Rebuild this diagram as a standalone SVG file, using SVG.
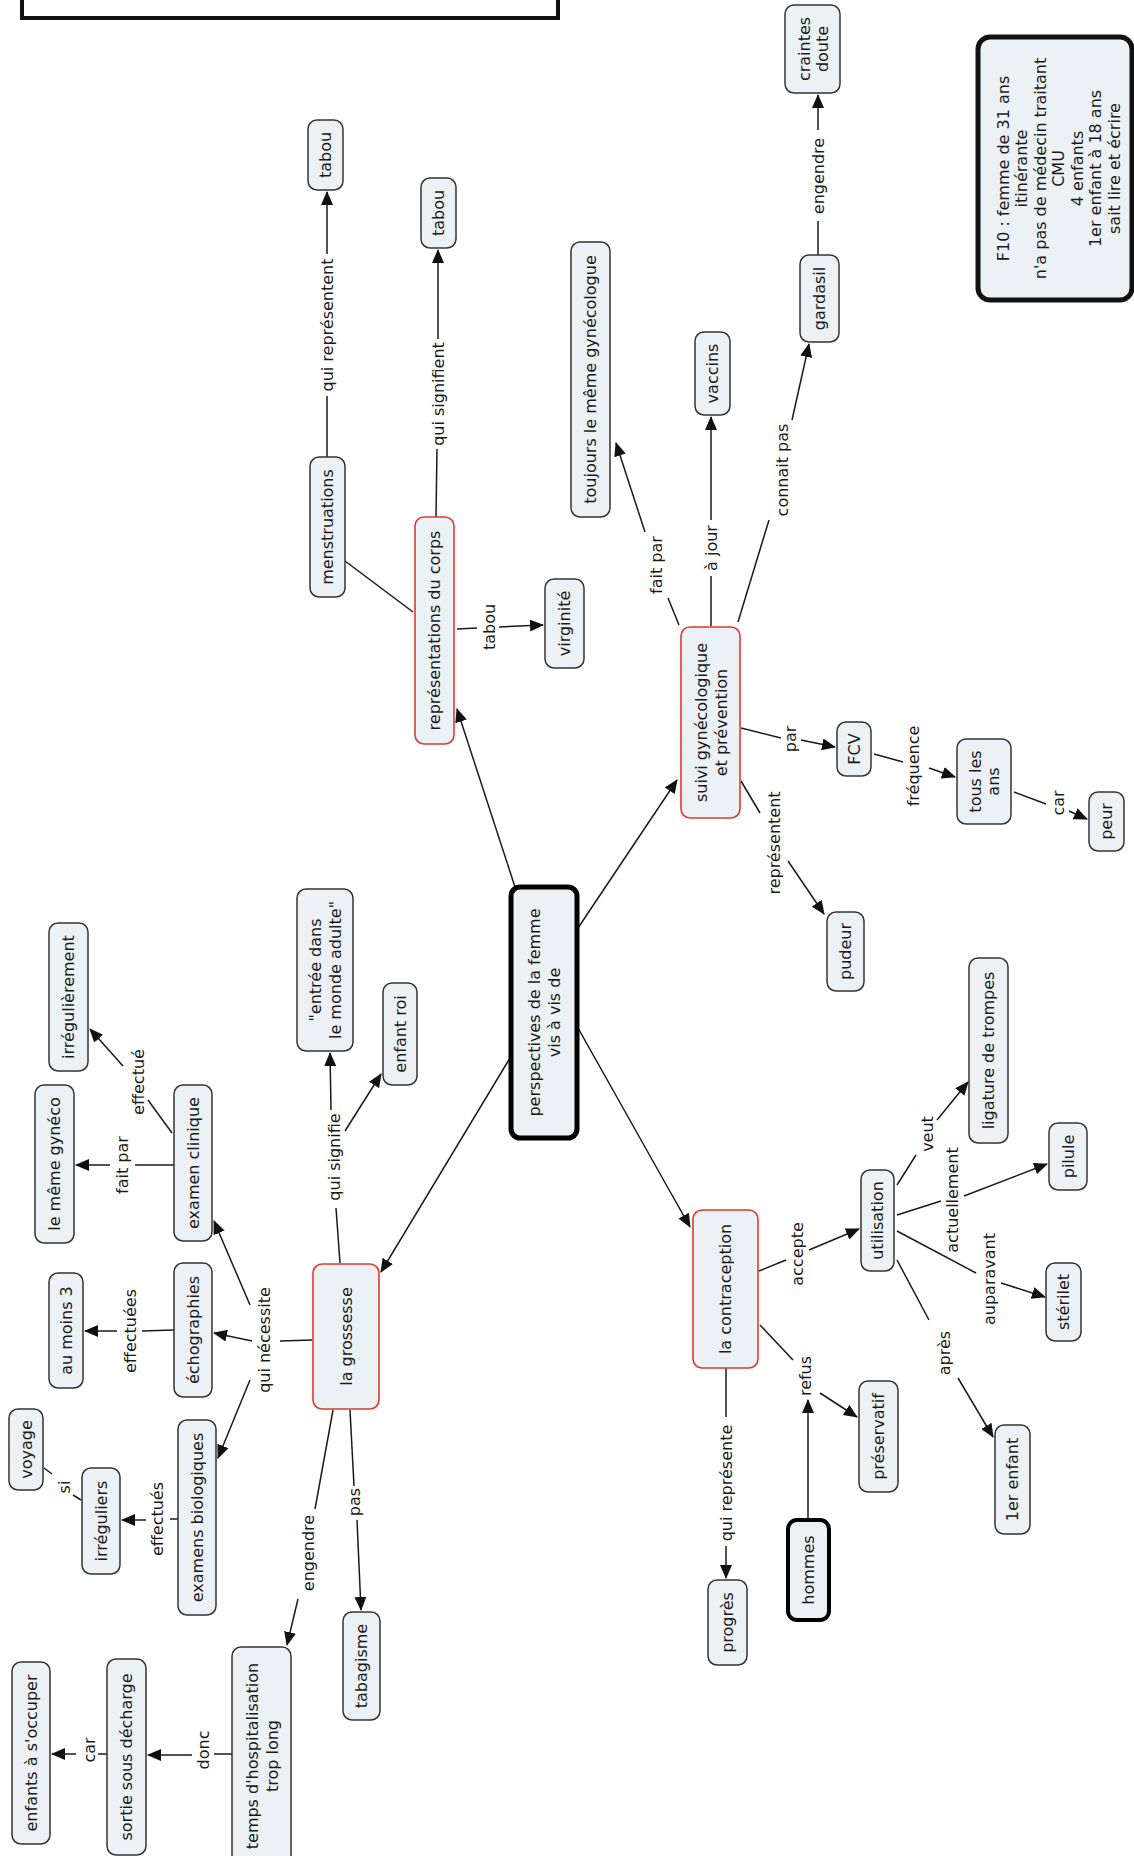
<svg xmlns="http://www.w3.org/2000/svg" width="1134" height="1856" viewBox="0 0 1134 1856">
<defs>
<style>
.n{fill:#ebf1f4;stroke:#333;stroke-width:1.5}
.r{fill:#ebf1f4;stroke:#e0392f;stroke-width:1.6}
.k{fill:#ebf1f4;stroke:#000;stroke-width:5}
.t{font-family:"DejaVu Sans","Verdana",sans-serif;font-size:16px;fill:#1a1a1a;text-anchor:middle;dominant-baseline:central}
.c path{fill:none;stroke:#1a1a1a;stroke-width:1.5}
.c .a{marker-end:url(#ah)}
</style>
<marker id="ah" viewBox="0 0 14 12" refX="13" refY="6" markerWidth="14" markerHeight="12" markerUnits="userSpaceOnUse" orient="auto"><path d="M0,0 L14,6 L0,12 z" fill="#111"/></marker>
</defs>
<rect width="1134" height="1856" fill="#fff"/>

<g id="title"><rect x="22" y="-20" width="536" height="38" fill="#fff" stroke="#111" stroke-width="4"/></g>

<g id="connectors" class="c">
<path d="M327,457 L327,396"/><path class="a" d="M327,254 L327,192"/>
<path d="M413,612 L345,561"/>
<path d="M436,517 L437,449"/><path class="a" d="M438,339 L438,250"/>
<path d="M457,629 L477,628"/><path class="a" d="M499,627 L543,625"/>
<path class="a" d="M515,887 L457,709"/>
<path class="a" d="M578,928 L677,780"/>
<path d="M679,625 L668,598"/><path class="a" d="M645,532 L616,443"/>
<path d="M711,626 L711,576"/><path class="a" d="M711,520 L711,417"/>
<path d="M738,622 L769,520"/><path class="a" d="M792,420 L809,344"/>
<path d="M818,255 L818,221"/><path class="a" d="M818,130 L818,95"/>
<path d="M741,728 L781,738"/><path class="a" d="M801,740 L835,747"/>
<path d="M874,754 L903,762"/><path class="a" d="M929,768 L955,777"/>
<path d="M1014,792 L1046,804"/><path class="a" d="M1069,811 L1087,819"/>
<path d="M741,781 L760,813"/><path class="a" d="M788,861 L824,914"/>
<path class="a" d="M510,1058 L381,1272"/>
<path class="a" d="M578,1028 L690,1227"/>
<path d="M340,1263 L336,1208"/><path class="a" d="M331,1110 L330,1053"/><path class="a" d="M345,1131 L381,1074"/>
<path d="M312,1340 L280,1341"/><path class="a" d="M252,1341 L214,1333"/><path class="a" d="M250,1305 L214,1221"/><path class="a" d="M250,1380 L218,1458"/>
<path d="M174,1165 L135,1165"/><path class="a" d="M110,1165 L76,1165"/>
<path d="M172,1133 L148,1100"/><path class="a" d="M123,1066 L90,1029"/>
<path d="M174,1330 L142,1331"/><path class="a" d="M117,1331 L85,1331"/>
<path d="M178,1519 L170,1519"/><path class="a" d="M146,1520 L122,1520"/>
<path d="M81,1500 L73,1495"/><path d="M52,1474 L44,1468"/>
<path d="M333,1410 L315,1509"/><path class="a" d="M298,1599 L287,1645"/>
<path d="M350,1410 L354,1486"/><path class="a" d="M357,1520 L361,1610"/>
<path d="M232,1754 L214,1754"/><path class="a" d="M192,1755 L148,1755"/>
<path d="M107,1754 L98,1754"/><path class="a" d="M76,1754 L52,1754"/>
<path d="M759,1271 L786,1260"/><path class="a" d="M809,1250 L859,1229"/>
<path d="M897,1185 L916,1155"/><path class="a" d="M937,1120 L968,1082"/>
<path d="M897,1215 L941,1201"/><path class="a" d="M964,1196 L1047,1164"/>
<path d="M897,1231 L976,1273"/><path class="a" d="M1001,1283 L1045,1297"/>
<path d="M897,1260 L929,1320"/><path class="a" d="M958,1378 L993,1437"/>
<path d="M760,1325 L793,1360"/><path class="a" d="M820,1393 L857,1417"/>
<path class="a" d="M808,1520 L808,1400"/>
<path d="M726,1368 L726,1417"/><path class="a" d="M726,1546 L726,1578"/>
<g id="labels">
<text class="t" transform="translate(327,325) rotate(-90)">qui représentent</text>
<text class="t" transform="translate(438,394) rotate(-90)">qui signifient</text>
<text class="t" transform="translate(489,627) rotate(-90)">tabou</text>
<text class="t" transform="translate(656,565) rotate(-90)">fait par</text>
<text class="t" transform="translate(711,548) rotate(-90)">à jour</text>
<text class="t" transform="translate(782,470) rotate(-90)">connait pas</text>
<text class="t" transform="translate(818,176) rotate(-90)">engendre</text>
<text class="t" transform="translate(790,739) rotate(-90)">par</text>
<text class="t" transform="translate(913,766) rotate(-90)">fréquence</text>
<text class="t" transform="translate(1058,803) rotate(-90)">car</text>
<text class="t" transform="translate(774,843) rotate(-90)">représentent</text>
<text class="t" transform="translate(334,1157) rotate(-90)">qui signifie</text>
<text class="t" transform="translate(264,1340) rotate(-90)">qui nécessite</text>
<text class="t" transform="translate(122,1165) rotate(-90)">fait par</text>
<text class="t" transform="translate(138,1082) rotate(-90)">effectué</text>
<text class="t" transform="translate(130,1331) rotate(-90)">effectuées</text>
<text class="t" transform="translate(157,1519) rotate(-90)">effectués</text>
<text class="t" transform="translate(64,1487) rotate(-90)">si</text>
<text class="t" transform="translate(308,1553) rotate(-90)">engendre</text>
<text class="t" transform="translate(354,1502) rotate(-90)">pas</text>
<text class="t" transform="translate(203,1750) rotate(-90)">donc</text>
<text class="t" transform="translate(89,1750) rotate(-90)">car</text>
<text class="t" transform="translate(797,1254) rotate(-90)">accepte</text>
<text class="t" transform="translate(927,1134) rotate(-90)">veut</text>
<text class="t" transform="translate(952,1200) rotate(-90)">actuellement</text>
<text class="t" transform="translate(989,1279) rotate(-90)">auparavant</text>
<text class="t" transform="translate(944,1353) rotate(-90)">après</text>
<text class="t" transform="translate(805,1376) rotate(-90)">refus</text>
<text class="t" transform="translate(726,1483) rotate(-90)">qui représente</text>
</g>
</g>

<g id="n-tabou1"><rect class="n" x="308" y="120" width="35" height="70" rx="9"/><text class="t" transform="translate(325.5,155) rotate(-90)">tabou</text></g>
<g id="n-menstruations"><rect class="n" x="310" y="457" width="35" height="140" rx="9"/><text class="t" transform="translate(327.5,527) rotate(-90)">menstruations</text></g>
<g id="n-representations"><rect class="r" x="415" y="517" width="39" height="227" rx="9"/><text class="t" transform="translate(434.5,630.5) rotate(-90)">représentations du corps</text></g>
<g id="n-tabou2"><rect class="n" x="421" y="178" width="35" height="70" rx="9"/><text class="t" transform="translate(438.5,213) rotate(-90)">tabou</text></g>
<g id="n-virginite"><rect class="n" x="545" y="579" width="39" height="89" rx="9"/><text class="t" transform="translate(564.5,623.5) rotate(-90)">virginité</text></g>
<g id="n-central"><rect class="k" x="511" y="887" width="66" height="251" rx="9"/><text class="t" transform="translate(544,1012.5) rotate(-90)"><tspan x="0" y="-10">perspectives de la femme</tspan><tspan x="0" y="10">vis à vis de</tspan></text></g>
<g id="n-suivi"><rect class="r" x="681" y="627" width="59" height="191" rx="9"/><text class="t" transform="translate(710.5,722.5) rotate(-90)"><tspan x="0" y="-10">suivi gynécologique</tspan><tspan x="0" y="10">et prévention</tspan></text></g>
<g id="n-toujours"><rect class="n" x="571" y="242" width="39" height="275" rx="9"/><text class="t" transform="translate(590.5,379.5) rotate(-90)">toujours le même gynécologue</text></g>
<g id="n-vaccins"><rect class="n" x="695" y="332" width="35" height="83" rx="9"/><text class="t" transform="translate(712.5,373.5) rotate(-90)">vaccins</text></g>
<g id="n-gardasil"><rect class="n" x="800" y="255" width="39" height="87" rx="9"/><text class="t" transform="translate(819.5,298.5) rotate(-90)">gardasil</text></g>
<g id="n-craintes"><rect class="n" x="785" y="5" width="55" height="88" rx="9"/><text class="t" transform="translate(812.5,49) rotate(-90)"><tspan x="0" y="-9">craintes</tspan><tspan x="0" y="9">doute</tspan></text></g>
<g id="n-f10"><rect x="978" y="37" width="154" height="263" rx="12" fill="#ebf1f4" stroke="#111" stroke-width="5"/><text class="t" transform="translate(1058,168.5) rotate(-90)"><tspan x="0" y="-55.5">F10 : femme de 31 ans</tspan><tspan x="0" y="-37">itinérante</tspan><tspan x="0" y="-18.5">n'a pas de médecin traitant</tspan><tspan x="0" y="0">CMU</tspan><tspan x="0" y="18.5">4 enfants</tspan><tspan x="0" y="37">1er enfant à 18 ans</tspan><tspan x="0" y="55.5">sait lire et écrire</tspan></text></g>
<g id="n-fcv"><rect class="n" x="837" y="722" width="34" height="54" rx="9"/><text class="t" transform="translate(854,749) rotate(-90)">FCV</text></g>
<g id="n-touslesans"><rect class="n" x="957" y="739" width="54" height="85" rx="9"/><text class="t" transform="translate(984,781.5) rotate(-90)"><tspan x="0" y="-9">tous les</tspan><tspan x="0" y="9">ans</tspan></text></g>
<g id="n-peur"><rect class="n" x="1089" y="792" width="35" height="59" rx="9"/><text class="t" transform="translate(1106.5,821.5) rotate(-90)">peur</text></g>
<g id="n-pudeur"><rect class="n" x="827" y="912" width="37" height="79" rx="9"/><text class="t" transform="translate(845.5,951.5) rotate(-90)">pudeur</text></g>
<g id="n-grossesse"><rect class="r" x="313" y="1264" width="66" height="145" rx="9"/><text class="t" transform="translate(346,1336.5) rotate(-90)">la grossesse</text></g>
<g id="n-contraception"><rect class="r" x="693" y="1210" width="65" height="158" rx="9"/><text class="t" transform="translate(725.5,1289) rotate(-90)">la contraception</text></g>
<g id="n-entree"><rect class="n" x="297" y="889" width="56" height="162" rx="9"/><text class="t" transform="translate(325,970) rotate(-90)"><tspan x="0" y="-10">"entrée dans</tspan><tspan x="0" y="10">le monde adulte"</tspan></text></g>
<g id="n-enfantroi"><rect class="n" x="383" y="983" width="34" height="102" rx="9"/><text class="t" transform="translate(400,1034) rotate(-90)">enfant roi</text></g>
<g id="n-echographies"><rect class="n" x="174" y="1263" width="38" height="134" rx="9"/><text class="t" transform="translate(193,1330) rotate(-90)">échographies</text></g>
<g id="n-examenclinique"><rect class="n" x="174" y="1085" width="38" height="156" rx="9"/><text class="t" transform="translate(193,1163) rotate(-90)">examen clinique</text></g>
<g id="n-gyneco"><rect class="n" x="35" y="1085" width="39" height="158" rx="9"/><text class="t" transform="translate(54.5,1164) rotate(-90)">le même gynéco</text></g>
<g id="n-irregulierement"><rect class="n" x="49" y="923" width="39" height="148" rx="9"/><text class="t" transform="translate(68.5,997) rotate(-90)">irrégulièrement</text></g>
<g id="n-aumoins3"><rect class="n" x="49" y="1273" width="34" height="115" rx="9"/><text class="t" transform="translate(66,1330.5) rotate(-90)">au moins 3</text></g>
<g id="n-examensbio"><rect class="n" x="178" y="1420" width="38" height="195" rx="9"/><text class="t" transform="translate(197,1517.5) rotate(-90)">examens biologiques</text></g>
<g id="n-irreguliers"><rect class="n" x="82" y="1468" width="38" height="106" rx="9"/><text class="t" transform="translate(101,1521) rotate(-90)">irréguliers</text></g>
<g id="n-voyage"><rect class="n" x="9" y="1409" width="34" height="81" rx="9"/><text class="t" transform="translate(26,1449.5) rotate(-90)">voyage</text></g>
<g id="n-temps"><rect class="n" x="232" y="1647" width="59" height="222" rx="9"/><text class="t" transform="translate(261.5,1756) rotate(-90)"><tspan x="0" y="-10">temps d'hospitalisation</tspan><tspan x="0" y="10">trop long</tspan></text></g>
<g id="n-tabagisme"><rect class="n" x="343" y="1612" width="37" height="108" rx="9"/><text class="t" transform="translate(361.5,1666) rotate(-90)">tabagisme</text></g>
<g id="n-sortie"><rect class="n" x="107" y="1659" width="39" height="196" rx="9"/><text class="t" transform="translate(126.5,1757) rotate(-90)">sortie sous décharge</text></g>
<g id="n-enfants"><rect class="n" x="12" y="1662" width="38" height="182" rx="9"/><text class="t" transform="translate(31,1753) rotate(-90)">enfants à s'occuper</text></g>
<g id="n-utilisation"><rect class="n" x="861" y="1170" width="33" height="101" rx="9"/><text class="t" transform="translate(877.5,1220.5) rotate(-90)">utilisation</text></g>
<g id="n-ligature"><rect class="n" x="969" y="958" width="39" height="185" rx="9"/><text class="t" transform="translate(988.5,1050.5) rotate(-90)">ligature de trompes</text></g>
<g id="n-pilule"><rect class="n" x="1049" y="1123" width="38" height="67" rx="9"/><text class="t" transform="translate(1068,1156.5) rotate(-90)">pilule</text></g>
<g id="n-sterilet"><rect class="n" x="1046" y="1263" width="35" height="78" rx="9"/><text class="t" transform="translate(1063.5,1302) rotate(-90)">stérilet</text></g>
<g id="n-1erenfant"><rect class="n" x="995" y="1425" width="35" height="109" rx="9"/><text class="t" transform="translate(1012.5,1479.5) rotate(-90)">1er enfant</text></g>
<g id="n-preservatif"><rect class="n" x="859" y="1381" width="39" height="111" rx="9"/><text class="t" transform="translate(878.5,1436.5) rotate(-90)">préservatif</text></g>
<g id="n-hommes"><rect x="788" y="1520" width="41" height="100" rx="9" fill="#ebf1f4" stroke="#000" stroke-width="4"/><text class="t" transform="translate(808.5,1570) rotate(-90)">hommes</text></g>
<g id="n-progres"><rect class="n" x="708" y="1580" width="39" height="85" rx="9"/><text class="t" transform="translate(727.5,1622.5) rotate(-90)">progrès</text></g>
</svg>
